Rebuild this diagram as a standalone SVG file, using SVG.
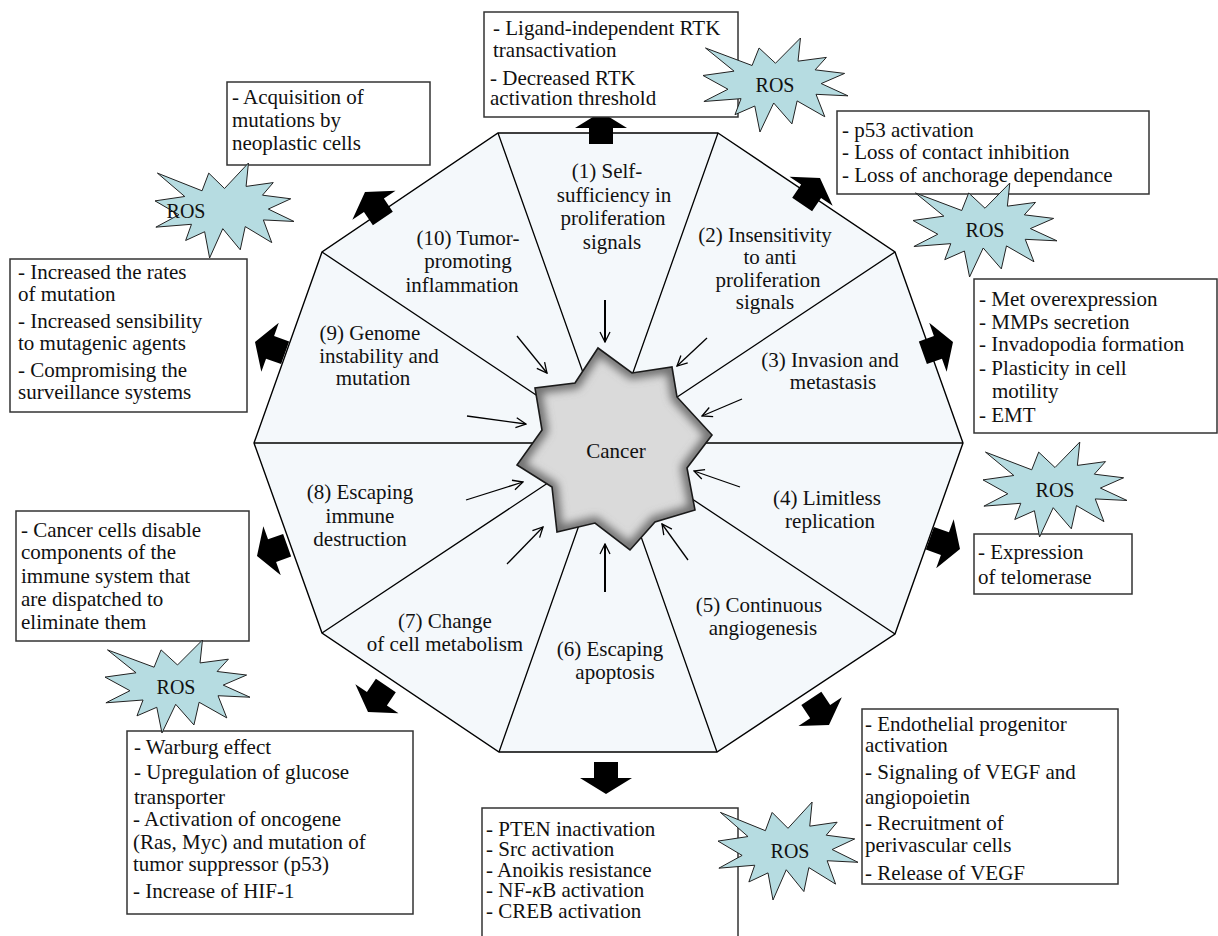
<svg xmlns="http://www.w3.org/2000/svg" xmlns:xlink="http://www.w3.org/1999/xlink" width="1218" height="936" viewBox="0 0 1218 936">
<style>
text{font-family:"Liberation Serif","Times New Roman",serif;fill:#111;}
.seg{font-size:21px;text-anchor:middle;}
.bx{font-size:21px;}
.box{fill:#fff;stroke:#333;stroke-width:1.5;}
.ros{fill:#b6dce1;stroke:#222;stroke-width:1;}
.rost{font-size:20px;text-anchor:middle;}
.thin{stroke:#000;stroke-width:1.3;fill:none;marker-end:url(#ah);}
.blk{fill:#000;}
.spoke{stroke:#000;stroke-width:1.3;fill:none;}
</style>
<defs>
<marker id="ah" viewBox="0 0 12 12" refX="11" refY="6" markerWidth="12" markerHeight="12" markerUnits="userSpaceOnUse" orient="auto">
<path d="M1,1 L11,6 L1,11" fill="none" stroke="#000" stroke-width="1.3"/>
</marker>
<path id="seal" vector-effect="non-scaling-stroke" d="M50,26.85 L67.23,0 L65.53,24.65 L85.09,20.63 L77.32,33.87 L97.67,37.67 L81.51,48.5 L100,61.53 L77.95,59.92 L84,83.77 L64.91,66.93 L61.33,91.38 L48.76,69.14 L39.28,100 L35.72,72.35 L22.05,81.56 L26.24,64.52 L0.63,67.53 L17.23,54.51 L0,39.88 L21.42,35.26 L1.71,10.63 L33.85,29.26 L38.67,10.63 Z"/>
<path id="blkarrow" d="M-32,-12 L-16,-12 L-16,-26 L0,0 L-16,26 L-16,12 L-32,12 Z"/>
<path id="cstar" d="M598,348 L632,373 L672,367 L677,397 L712,435 L687,468 L695,510 L655,522 L630,550 L595,523 L557,532 L552,487 L517,465 L542,430 L535,388 L575,383 Z"/>
<clipPath id="cclip"><use xlink:href="#cstar"/></clipPath>
<filter id="blur" x="-20%" y="-20%" width="140%" height="140%"><feGaussianBlur stdDeviation="4"/></filter>
</defs>
<rect width="1218" height="936" fill="#fff"/>

<g id="decagon">
<polygon points="718,133 895,252 963,443 895,634 717,752 499,752 322,633 254,443 322,252 498,133" fill="#f4f8fb" stroke="#000" stroke-width="1.4"/>
<path class="spoke" d="M718,133 L608,443 M895,252 L608,443 M963,443 L608,443 M895,634 L608,443 M717,752 L608,443 M499,752 L608,443 M322,633 L608,443 M254,443 L608,443 M322,252 L608,443 M498,133 L608,443"/>
</g>

<g id="seg1"><text class="seg"><tspan x="607" y="178">(1) Self-</tspan><tspan x="614" y="202">sufficiency in</tspan><tspan x="613" y="225">proliferation</tspan><tspan x="612" y="249">signals</tspan></text></g>
<g id="seg2"><text class="seg"><tspan x="765" y="242">(2) Insensitivity</tspan><tspan x="770" y="264">to anti</tspan><tspan x="768" y="287">proliferation</tspan><tspan x="765" y="309">signals</tspan></text></g>
<g id="seg3"><text class="seg"><tspan x="830" y="367">(3) Invasion and</tspan><tspan x="833" y="389">metastasis</tspan></text></g>
<g id="seg4"><text class="seg"><tspan x="827" y="505">(4) Limitless</tspan><tspan x="830" y="528">replication</tspan></text></g>
<g id="seg5"><text class="seg"><tspan x="759" y="612">(5) Continuous</tspan><tspan x="763" y="635">angiogenesis</tspan></text></g>
<g id="seg6"><text class="seg"><tspan x="610" y="656">(6) Escaping</tspan><tspan x="615" y="679">apoptosis</tspan></text></g>
<g id="seg7"><text class="seg"><tspan x="445" y="628">(7) Change</tspan><tspan x="445" y="651">of cell metabolism</tspan></text></g>
<g id="seg8"><text class="seg"><tspan x="360" y="499">(8) Escaping</tspan><tspan x="360" y="523">immune</tspan><tspan x="360" y="546">destruction</tspan></text></g>
<g id="seg9"><text class="seg"><tspan x="370" y="340">(9) Genome</tspan><tspan x="379" y="363">instability and</tspan><tspan x="373" y="385">mutation</tspan></text></g>
<g id="seg10"><text class="seg"><tspan x="468" y="245">(10) Tumor-</tspan><tspan x="468" y="268">promoting</tspan><tspan x="462" y="292">inflammation</tspan></text></g>

<g id="connectors">
<path class="thin" d="M605,300 L605,342" style="stroke-width:2"/>
<path class="thin" d="M707,338 L677,366"/>
<path class="thin" d="M742,399 L702,416"/>
<path class="thin" d="M740,487 L694,471"/>
<path class="thin" d="M688,560 L662,524"/>
<path class="thin" d="M605,592 L605,544" style="stroke-width:2"/>
<path class="thin" d="M507,564 L543,527"/>
<path class="thin" d="M466,500 L523,482"/>
<path class="thin" d="M467,416 L526,424"/>
<path class="thin" d="M517,336 L547,373"/>
<use xlink:href="#blkarrow" class="blk" transform="translate(601,112) rotate(-90)"/>
<use xlink:href="#blkarrow" class="blk" transform="translate(820,178) rotate(-56.1)"/>
<use xlink:href="#blkarrow" class="blk" transform="translate(953,342) rotate(-19.6)"/>
<use xlink:href="#blkarrow" class="blk" transform="translate(960,549) rotate(19.6)"/>
<use xlink:href="#blkarrow" class="blk" transform="translate(829,725) rotate(56.5)"/>
<use xlink:href="#blkarrow" class="blk" transform="translate(606,794) rotate(90)"/>
<use xlink:href="#blkarrow" class="blk" transform="translate(368,712) rotate(123.9)"/>
<use xlink:href="#blkarrow" class="blk" transform="translate(257,556) rotate(160.4)"/>
<use xlink:href="#blkarrow" class="blk" transform="translate(255,342) rotate(-160.4)"/>
<use xlink:href="#blkarrow" class="blk" transform="translate(365,192) rotate(-123.9)"/>
</g>

<g id="cancer">
<use xlink:href="#cstar" fill="#dadada"/>
<g clip-path="url(#cclip)"><use xlink:href="#cstar" fill="none" stroke="#6e6e6e" stroke-width="12" filter="url(#blur)"/></g>
<use xlink:href="#cstar" fill="none" stroke="#1a1a1a" stroke-width="1.6" stroke-linejoin="miter"/>
<text x="616" y="458" style="font-size:21px;text-anchor:middle">Cancer</text>
</g>

<g id="box-rtk"><rect class="box" x="484" y="12" width="254" height="105"/>
<text class="bx"><tspan x="493" y="35">- Ligand-independent RTK</tspan><tspan x="493" y="57">transactivation</tspan><tspan x="490" y="85">- Decreased RTK</tspan><tspan x="490" y="105">activation threshold</tspan></text></g>

<g id="box-p53"><rect class="box" x="837" y="111" width="312" height="83"/>
<text class="bx"><tspan x="842" y="137">- p53 activation</tspan><tspan x="842" y="159">- Loss of contact inhibition</tspan><tspan x="842" y="182">- Loss of anchorage dependance</tspan></text></g>

<g id="box-met"><rect class="box" x="974" y="279" width="243" height="154"/>
<text class="bx"><tspan x="979" y="306">- Met overexpression</tspan><tspan x="979" y="329">- MMPs secretion</tspan><tspan x="979" y="351">- Invadopodia formation</tspan><tspan x="979" y="375">- Plasticity in cell</tspan><tspan x="992" y="398">motility</tspan><tspan x="979" y="422">- EMT</tspan></text></g>

<g id="box-telomerase"><rect class="box" x="974" y="534" width="158" height="60"/>
<text class="bx"><tspan x="978" y="559">- Expression</tspan><tspan x="978" y="584">of telomerase</tspan></text></g>

<g id="box-angio"><rect class="box" x="862" y="709" width="256" height="175"/>
<text class="bx"><tspan x="865" y="731">- Endothelial progenitor</tspan><tspan x="865" y="752">activation</tspan><tspan x="865" y="779">- Signaling of VEGF and</tspan><tspan x="865" y="804">angiopoietin</tspan><tspan x="865" y="830">- Recruitment of</tspan><tspan x="865" y="852">perivascular cells</tspan><tspan x="865" y="880">- Release of VEGF</tspan></text></g>

<g id="box-apoptosis"><rect class="box" x="482" y="808" width="256" height="140"/>
<text class="bx"><tspan x="486" y="836">- PTEN inactivation</tspan><tspan x="486" y="856">- Src activation</tspan><tspan x="486" y="877">- Anoikis resistance</tspan><tspan x="486" y="897">- NF-<tspan font-style="italic">κ</tspan>B activation</tspan><tspan x="486" y="918">- CREB activation</tspan></text></g>

<g id="box-metabolism"><rect class="box" x="127" y="731" width="286" height="183"/>
<text class="bx"><tspan x="134" y="754">- Warburg effect</tspan><tspan x="134" y="779">- Upregulation of glucose</tspan><tspan x="134" y="804">transporter</tspan><tspan x="133" y="826">- Activation of oncogene</tspan><tspan x="133" y="849">(Ras, Myc) and mutation of</tspan><tspan x="133" y="871">tumor suppressor (p53)</tspan><tspan x="133" y="898">- Increase of HIF-1</tspan></text></g>

<g id="box-immune"><rect class="box" x="16" y="511" width="233" height="130"/>
<text class="bx"><tspan x="21" y="537">- Cancer cells disable</tspan><tspan x="21" y="559">components of the</tspan><tspan x="21" y="583">immune system that</tspan><tspan x="21" y="606">are dispatched to</tspan><tspan x="21" y="629">eliminate them</tspan></text></g>

<g id="box-genome"><rect class="box" x="10" y="259" width="237" height="153"/>
<text class="bx"><tspan x="18" y="279">- Increased the rates</tspan><tspan x="18" y="301">of mutation</tspan><tspan x="18" y="328">- Increased sensibility</tspan><tspan x="18" y="350">to mutagenic agents</tspan><tspan x="18" y="377">- Compromising the</tspan><tspan x="18" y="399">surveillance systems</tspan></text></g>

<g id="box-inflammation"><rect class="box" x="227" y="82" width="203" height="83"/>
<text class="bx"><tspan x="232" y="104">- Acquisition of</tspan><tspan x="232" y="127">mutations by</tspan><tspan x="232" y="150">neoplastic cells</tspan></text></g>

<g id="ros1"><use xlink:href="#seal" class="ros" transform="translate(703,38) scale(1.45,0.94)"/><text class="rost" x="775" y="92">ROS</text></g>
<g id="ros2"><use xlink:href="#seal" class="ros" transform="translate(913,183) scale(1.44,0.94)"/><text class="rost" x="985" y="237">ROS</text></g>
<g id="ros3"><use xlink:href="#seal" class="ros" transform="translate(983,442) scale(1.44,0.95)"/><text class="rost" x="1055" y="497">ROS</text></g>
<g id="ros4"><use xlink:href="#seal" class="ros" transform="translate(155,163) scale(1.39,0.95)"/><text class="rost" x="186" y="218">ROS</text></g>
<g id="ros5"><use xlink:href="#seal" class="ros" transform="translate(105,640) scale(1.45,0.93)"/><text class="rost" x="176" y="694">ROS</text></g>
<g id="ros6"><use xlink:href="#seal" class="ros" transform="translate(718,802) scale(1.40,0.98)"/><text class="rost" x="790" y="858">ROS</text></g>
</svg>
